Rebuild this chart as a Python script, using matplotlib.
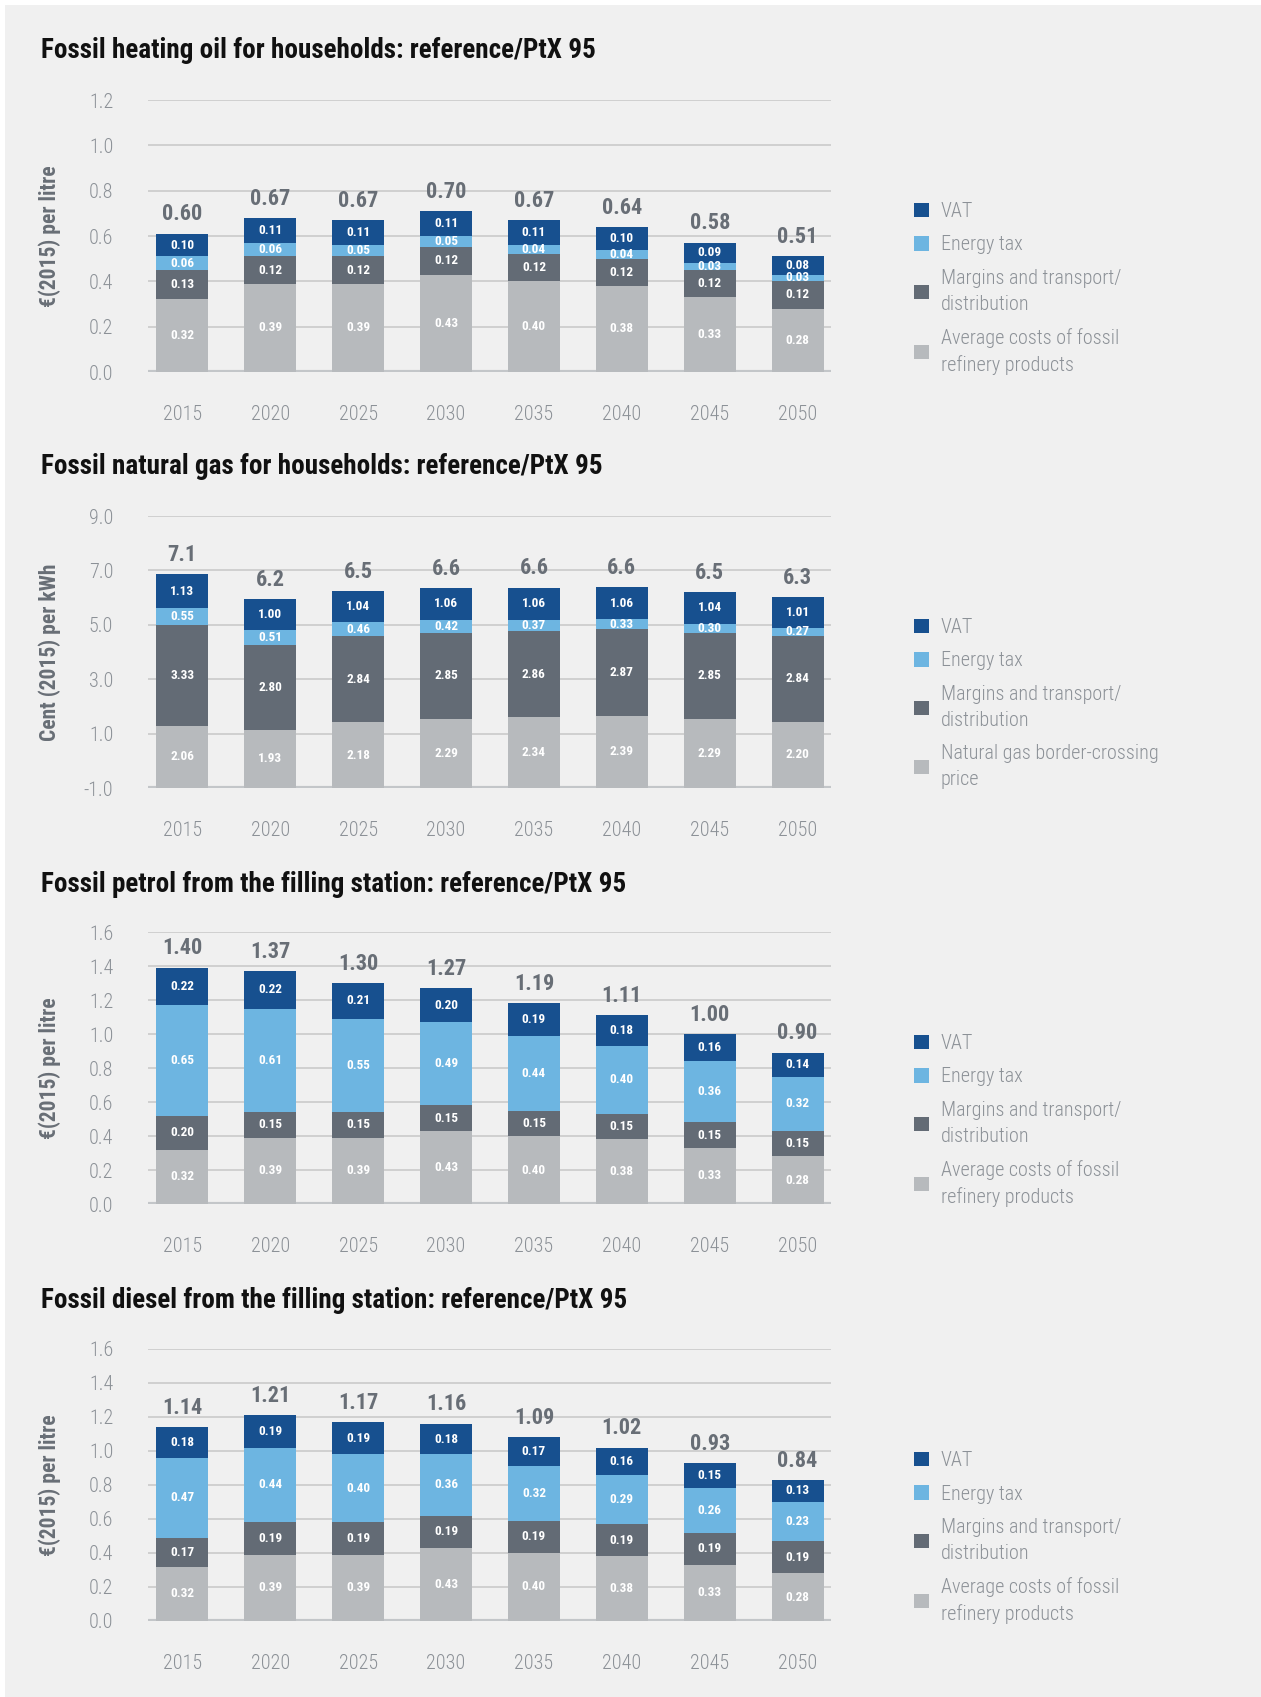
import numpy as np
import matplotlib.pyplot as plt
from matplotlib.patches import Rectangle
from matplotlib import font_manager

# =========================================
# DATA
# =========================================
years = ['2015', '2020', '2025', '2030', '2035', '2040', '2045', '2050']

# heating oil (EUR(2015) per litre)
oil_base = [0.32, 0.39, 0.39, 0.43, 0.40, 0.38, 0.33, 0.28]
oil_margin = [0.13, 0.12, 0.12, 0.12, 0.12, 0.12, 0.12, 0.12]
oil_tax = [0.06, 0.06, 0.05, 0.05, 0.04, 0.04, 0.03, 0.03]
oil_vat = [0.10, 0.11, 0.11, 0.11, 0.11, 0.10, 0.09, 0.08]
oil_total = ['0.60', '0.67', '0.67', '0.70', '0.67', '0.64', '0.58', '0.51']
oil_ticks = ['0.0', '0.2', '0.4', '0.6', '0.8', '1.0', '1.2']

# natural gas (Cent(2015) per kWh)
gas_base = [2.06, 1.93, 2.18, 2.29, 2.34, 2.39, 2.29, 2.20]
gas_margin = [3.33, 2.80, 2.84, 2.85, 2.86, 2.87, 2.85, 2.84]
gas_tax = [0.55, 0.51, 0.46, 0.42, 0.37, 0.33, 0.30, 0.27]
gas_vat = [1.13, 1.00, 1.04, 1.06, 1.06, 1.06, 1.04, 1.01]
gas_total = ['7.1', '6.2', '6.5', '6.6', '6.6', '6.6', '6.5', '6.3']
gas_ticks = ['-1.0', '1.0', '3.0', '5.0', '7.0', '9.0']

# petrol (EUR(2015) per litre)
pet_base = [0.32, 0.39, 0.39, 0.43, 0.40, 0.38, 0.33, 0.28]
pet_margin = [0.20, 0.15, 0.15, 0.15, 0.15, 0.15, 0.15, 0.15]
pet_tax = [0.65, 0.61, 0.55, 0.49, 0.44, 0.40, 0.36, 0.32]
pet_vat = [0.22, 0.22, 0.21, 0.20, 0.19, 0.18, 0.16, 0.14]
pet_total = ['1.40', '1.37', '1.30', '1.27', '1.19', '1.11', '1.00', '0.90']

# diesel (EUR(2015) per litre)
dsl_base = [0.32, 0.39, 0.39, 0.43, 0.40, 0.38, 0.33, 0.28]
dsl_margin = [0.17, 0.19, 0.19, 0.19, 0.19, 0.19, 0.19, 0.19]
dsl_tax = [0.47, 0.44, 0.40, 0.36, 0.32, 0.29, 0.26, 0.23]
dsl_vat = [0.18, 0.19, 0.19, 0.18, 0.17, 0.16, 0.15, 0.13]
dsl_total = ['1.14', '1.21', '1.17', '1.16', '1.09', '1.02', '0.93', '0.84']
fuel_ticks = ['0.0', '0.2', '0.4', '0.6', '0.8', '1.0', '1.2', '1.4', '1.6']

lbl_vat = 'VAT'
lbl_tax = 'Energy tax'
lbl_margin = 'Margins and transport/\ndistribution'
lbl_refinery = 'Average costs of fossil\nrefinery products'
lbl_border = 'Natural gas border-crossing\nprice'

# =========================================
# STYLE
# =========================================
installed = {f.name for f in font_manager.fontManager.ttflist}
FONT = [f for f in ['Roboto Condensed', 'DejaVu Sans Condensed', 'Roboto', 'DejaVu Sans']
        if f in installed]
plt.rcParams['font.family'] = FONT

C_VAT = '#17508f'
C_TAX = '#6db5e1'
C_MARGIN = '#636b75'
C_BASE = '#b7babd'
C_GRID = '#cdcdcd'
C_TICK = '#8c9197'
C_TOTAL = '#686e76'
BG = '#f0f0f0'

W, H = 1261, 1697
fig = plt.figure(figsize=(W / 100, H / 100), dpi=100, facecolor='white')
fig.patches.append(Rectangle((5 / W, 0), 1, 1 - 5 / H, transform=fig.transFigure,
                             facecolor=BG, edgecolor='none', zorder=-10))

panels = [
    dict(title='Fossil heating oil for households: reference/PtX 95',
         ylabel='€(2015) per litre',
         parts=[oil_base, oil_margin, oil_tax, oil_vat], total=oil_total,
         ylim=(0, 1.2), ticks=oil_ticks, base_lbl=lbl_refinery),
    dict(title='Fossil natural gas for households: reference/PtX 95',
         ylabel='Cent (2015) per kWh',
         parts=[gas_base, gas_margin, gas_tax, gas_vat], total=gas_total,
         ylim=(0, 9.0), ticks=gas_ticks, base_lbl=lbl_border),
    dict(title='Fossil petrol from the filling station: reference/PtX 95',
         ylabel='€(2015) per litre',
         parts=[pet_base, pet_margin, pet_tax, pet_vat], total=pet_total,
         ylim=(0, 1.6), ticks=fuel_ticks, base_lbl=lbl_refinery),
    dict(title='Fossil diesel from the filling station: reference/PtX 95',
         ylabel='€(2015) per litre',
         parts=[dsl_base, dsl_margin, dsl_tax, dsl_vat], total=dsl_total,
         ylim=(0, 1.6), ticks=fuel_ticks, base_lbl=lbl_refinery),
]

colors = [C_BASE, C_MARGIN, C_TAX, C_VAT]
x = np.arange(len(years))
AX_L, AX_W, AX_H = 148, 683, 272
tops = [100, 516, 932, 1349]
title_y = [51, 467, 884, 1300]

for i, p in enumerate(panels):
    ax = fig.add_axes([AX_L / W, 1 - (tops[i] + AX_H) / H, AX_W / W, AX_H / H])
    ax.set_facecolor('none')

    bottom = np.zeros(len(years))
    handles = []
    for vals, col in zip(p['parts'], colors):
        vals = np.array(vals)
        b = ax.bar(x, vals, bottom=bottom, width=0.59, color=col, zorder=3)
        handles.append(b)
        for xi, v, bt in zip(x, vals, bottom):
            ax.text(xi, bt + v / 2, f'{v:.2f}', ha='center', va='center',
                    color='white', fontsize=9.5, fontweight='bold', zorder=4)
        bottom = bottom + vals

    for xi, top, t in zip(x, bottom, p['total']):
        ax.annotate(t, (xi, top), xytext=(0, 6), textcoords='offset points',
                    ha='center', va='bottom', color=C_TOTAL, fontsize=16,
                    fontweight='bold')

    ymin, ymax = p['ylim']
    ax.set_ylim(ymin, ymax)
    ax.set_xlim(-0.39, 7.38)
    ax.set_yticks(np.linspace(ymin, ymax, len(p['ticks'])))
    ax.set_yticklabels(p['ticks'], fontweight='light')
    ax.set_xticks(x)
    ax.set_xticklabels(years, fontweight='light')
    ax.tick_params(axis='both', length=0, labelsize=14.5, labelcolor=C_TICK)
    ax.tick_params(axis='y', pad=25)
    ax.tick_params(axis='x', pad=24)
    for s in ax.spines.values():
        s.set_visible(False)
    ax.yaxis.grid(True, color=C_GRID, linewidth=1.3, zorder=0)
    ax.set_axisbelow(True)
    ax.axhline(ymin, color='#c3c6c9', linewidth=3, zorder=2)

    ax.set_ylabel(p['ylabel'], fontsize=15.5, fontweight='bold', color=C_TOTAL)
    ax.yaxis.set_label_coords(-0.127, 0.5)

    fig.text(41 / W, 1 - title_y[i] / H, p['title'], fontsize=19.5,
             fontweight='bold', color='#111111', ha='left', va='center')

    labels = [lbl_vat, lbl_tax, lbl_margin, p['base_lbl']]
    leg = ax.legend(handles[::-1], labels, loc='upper left',
                    bbox_to_anchor=(1.122, 0.625), frameon=False,
                    prop=dict(size=14.5, weight='light'),
                    labelcolor=C_TICK, handlelength=0.72, handleheight=0.72,
                    handletextpad=0.6, labelspacing=0.72, borderpad=0,
                    borderaxespad=0)
    for t in leg.get_texts():
        t.set_linespacing(1.45)

plt.savefig('out.png', dpi=100, facecolor=fig.get_facecolor())
